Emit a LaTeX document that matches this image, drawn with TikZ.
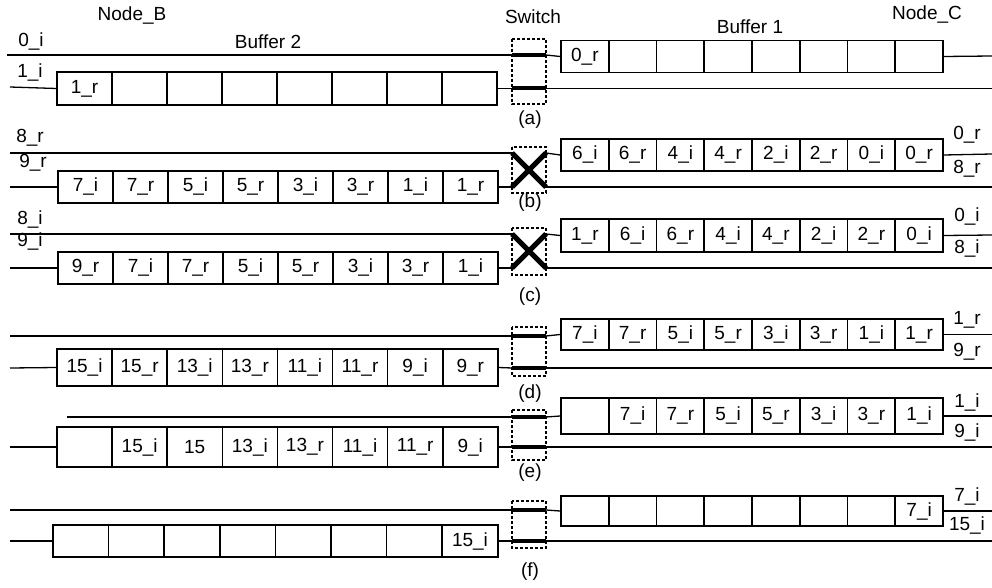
\documentclass[tikz,border=0pt]{standalone}
\usepackage{fontspec}
\setmainfont{Liberation Sans}
\newcommand\lblfont{\fontsize{19}{22}\selectfont}
\newcommand\bufrow[6]{%
  \foreach \t [count=\k] in {#6} {%
    \node[cell, minimum width=#3pt, minimum height=#5pt] (#1\k) at ({#2+(\k-0.5)*#3}, #4) {\t};
  }}
\begin{document}
\begin{tikzpicture}[x=1pt,y=-1pt,
  wire/.style={line width=1.3pt},
  cell/.style={draw, line width=1.6pt, inner sep=0pt, font=\lblfont},
  swbox/.style={draw, line width=1.2pt, dash pattern=on 3pt off 2pt},
  bar/.style={line width=4pt},
  cross/.style={line width=5pt},
  lab/.style={inner sep=0pt, font=\lblfont}]
\useasboundingbox (0,0) rectangle (992,588);

% headings
\node[lab] (nodeB) at (132,16) {Node\_B};
\node[lab] (buf2) at (268,42) {Buffer 2};
\node[lab] (switch) at (533,17) {Switch};
\node[lab] (buf1) at (750,27) {Buffer 1};
\node[lab] (nodeC) at (927,15) {Node\_C};

% ---------------- (a)
\node[lab] (a0i) at (31,42) {0\_i};
\node[lab] (a1i) at (30,73) {1\_i};
\coordinate (aT0) at (7,55);
\coordinate (aB0) at (10,87);
\coordinate (aS1) at (512,55); \coordinate (aS2) at (546,55);
\coordinate (aS3) at (512,88.5); \coordinate (aS4) at (546,88.5);
\coordinate (aE1) at (992,56); \coordinate (aE2) at (992,88.5);
\bufrow{aL}{57}{55}{88.5}{33}{1\_r,{},{},{},{},{},{},{}}
\bufrow{aR}{561}{47.75}{56.5}{32}{0\_r,{},{},{},{},{},{},{}}
\draw[swbox] (512,39) rectangle (546,104);
\draw[wire] (aT0) -- (aS1);
\draw[wire] (aB0) -- (aL1.west);
\draw[wire] (aL8.east) -- (aS3);
\draw[bar] (aS1) -- (aS2);
\draw[bar] (aS3) -- (aS4);
\draw[wire] (aS2) -- (aR1.west);
\draw[wire] (aR8.east) -- (aE1);
\draw[wire] (aS4) -- (aE2);
\node[lab] (capa) at (530,120) {(a)};

% ---------------- (b)
\node[lab] (b8r) at (30,138) {8\_r};
\node[lab] (b9r) at (33,163) {9\_r};
\coordinate (bT0) at (10,153);
\coordinate (bB0) at (10,187);
\coordinate (bS1) at (512,153); \coordinate (bS2) at (546,153);
\coordinate (bS3) at (512,187); \coordinate (bS4) at (546,187);
\coordinate (bE1) at (992,154); \coordinate (bE2) at (992,187);
\bufrow{bL}{58}{55}{187}{32}{7\_i,7\_r,5\_i,5\_r,3\_i,3\_r,1\_i,1\_r}
\bufrow{bR}{561}{47.75}{155}{32}{6\_i,6\_r,4\_i,4\_r,2\_i,2\_r,0\_i,0\_r}
\draw[swbox] (512,147) rectangle (546,193);
\draw[wire] (bT0) -- (bS1);
\draw[wire] (bB0) -- (bL1.west);
\draw[wire] (bL8.east) -- (bS3);
\draw[cross] (bS1) -- (bS4);
\draw[cross] (bS3) -- (bS2);
\draw[wire] (bS2) -- (bR1.west);
\draw[wire] (bR8.east) -- (bE1);
\draw[wire] (bS4) -- (bE2);
\node[lab] (b0rR) at (967,135) {0\_r};
\node[lab] (b8rR) at (967,169) {8\_r};
\node[lab] (capb) at (530,203) {(b)};

% ---------------- (c)
\node[lab] (c8i) at (30,220) {8\_i};
\node[lab] (c9i) at (30,242) {9\_i};
\coordinate (cT0) at (10,234);
\coordinate (cB0) at (10,268);
\coordinate (cS1) at (512,234); \coordinate (cS2) at (546,234);
\coordinate (cS3) at (512,268); \coordinate (cS4) at (546,268);
\coordinate (cE1) at (992,235); \coordinate (cE2) at (992,268);
\bufrow{cL}{58}{55}{268}{32}{9\_r,7\_i,7\_r,5\_i,5\_r,3\_i,3\_r,1\_i}
\bufrow{cR}{561}{47.75}{235.5}{33}{1\_r,6\_i,6\_r,4\_i,4\_r,2\_i,2\_r,0\_i}
\draw[swbox] (512,228) rectangle (546,275);
\draw[wire] (cT0) -- (cS1);
\draw[wire] (cB0) -- (cL1.west);
\draw[wire] (cL8.east) -- (cS3);
\draw[cross] (cS1) -- (cS4);
\draw[cross] (cS3) -- (cS2);
\draw[wire] (cS2) -- (cR1.west);
\draw[wire] (cR8.east) -- (cE1);
\draw[wire] (cS4) -- (cE2);
\node[lab] (c0iR) at (967,217) {0\_i};
\node[lab] (c8iR) at (967,249) {8\_i};
\node[lab] (capc) at (530,297) {(c)};

% ---------------- (d)
\coordinate (dT0) at (10,336);
\coordinate (dB0) at (10,368);
\coordinate (dS1) at (512,336); \coordinate (dS2) at (546,336);
\coordinate (dS3) at (512,368); \coordinate (dS4) at (546,368);
\coordinate (dE1) at (992,334.5); \coordinate (dE2) at (992,368);
\bufrow{dL}{57}{55.1}{367.5}{37}{15\_i,15\_r,13\_i,13\_r,11\_i,11\_r,9\_i,9\_r}
\bufrow{dR}{561}{47.75}{334.5}{31}{7\_i,7\_r,5\_i,5\_r,3\_i,3\_r,1\_i,1\_r}
\draw[swbox] (512,327) rectangle (546,376);
\draw[wire] (dT0) -- (dS1);
\draw[wire] (dB0) -- (dL1.west);
\draw[wire] (dL8.east) -- (dS3);
\draw[bar] (dS1) -- (dS2);
\draw[bar] (dS3) -- (dS4);
\draw[wire] (dS2) -- (dR1.west);
\draw[wire] (dR8.east) -- (dE1);
\draw[wire] (dS4) -- (dE2);
\node[lab] (d1rR) at (967,320) {1\_r};
\node[lab] (d9rR) at (967,352) {9\_r};
\node[lab] (capd) at (530,394) {(d)};

% ---------------- (e)
\coordinate (eT0) at (67,417);
\coordinate (eB0) at (10,447);
\coordinate (eS1) at (512,417); \coordinate (eS2) at (546,417);
\coordinate (eS3) at (512,447); \coordinate (eS4) at (546,447);
\coordinate (eE1) at (992,416); \coordinate (eE2) at (992,447);
\bufrow{eL}{57}{55.1}{447}{40}{{},15\_i,15,13\_i,13\_r,11\_i,11\_r,9\_i}
\bufrow{eR}{561}{47.75}{416}{36}{{},7\_i,7\_r,5\_i,5\_r,3\_i,3\_r,1\_i}
\draw[swbox] (512,410) rectangle (546,460);
\draw[wire] (eT0) -- (eS1);
\draw[wire] (eB0) -- (eL1.west);
\draw[wire] (eL8.east) -- (eS3);
\draw[bar] (eS1) -- (eS2);
\draw[bar] (eS3) -- (eS4);
\draw[wire] (eS2) -- (eR1.west);
\draw[wire] (eR8.east) -- (eE1);
\draw[wire] (eS4) -- (eE2);
\node[lab] (e1iR) at (967,402) {1\_i};
\node[lab] (e9iR) at (967,432) {9\_i};
\node[lab] (cape) at (530,473) {(e)};

% ---------------- (f)
\coordinate (fT0) at (10,510);
\coordinate (fB0) at (10,541);
\coordinate (fS1) at (512,510); \coordinate (fS2) at (546,510);
\coordinate (fS3) at (512,541); \coordinate (fS4) at (546,541);
\coordinate (fE1) at (992,511); \coordinate (fE2) at (992,541);
\bufrow{fL}{53}{55.6}{541}{32}{{},{},{},{},{},{},{},15\_i}
\bufrow{fR}{561}{47.75}{511}{30}{{},{},{},{},{},{},{},7\_i}
\draw[swbox] (512,501) rectangle (546,548);
\draw[wire] (fT0) -- (fS1);
\draw[wire] (fB0) -- (fL1.west);
\draw[wire] (fL8.east) -- (fS3);
\draw[bar] (fS1) -- (fS2);
\draw[bar] (fS3) -- (fS4);
\draw[wire] (fS2) -- (fR1.west);
\draw[wire] (fR8.east) -- (fE1);
\draw[wire] (fS4) -- (fE2);
\node[lab] (f7iR) at (967,496) {7\_i};
\node[lab] (f15iR) at (967,525) {15\_i};
\node[lab] (capf) at (530,572) {(f)};
\end{tikzpicture}
\end{document}
